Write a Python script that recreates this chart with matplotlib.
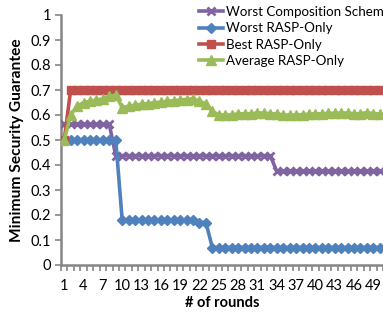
import matplotlib
matplotlib.use("Agg")
import matplotlib.pyplot as plt
from matplotlib.ticker import FixedLocator, NullFormatter

plt.rcParams['font.family'] = ['Lato', 'DejaVu Sans']

rounds = list(range(1, 51))
worst_comp = [0.5625] * 8 + [0.4375] * 25 + [0.375] * 17
worst_rasp = [0.5] * 9 + [0.18] * 12 + [0.17] * 2 + [0.07] * 27
best_rasp = [0.5] + [0.7] * 49
avg_rasp = [0.50, 0.60, 0.635, 0.65, 0.655, 0.66, 0.665, 0.675, 0.68, 0.63,
            0.635, 0.64, 0.643, 0.646, 0.649, 0.652, 0.655, 0.657, 0.66, 0.662,
            0.665, 0.655, 0.645, 0.615, 0.60, 0.60, 0.60, 0.605, 0.605, 0.605,
            0.608, 0.608, 0.605, 0.605, 0.60, 0.60, 0.60, 0.602, 0.603, 0.605,
            0.605, 0.607, 0.607, 0.608, 0.608, 0.605, 0.605, 0.61, 0.605, 0.605]
series_names = ["Worst Composition Scheme", "Worst RASP-Only", "Best RASP-Only", "Average RASP-Only"]
x_tick_labels = [str(r) for r in range(1, 51, 3)]
y_ticks = [i / 10 for i in range(0, 11)]

W, H = 383, 316
fig = plt.figure(figsize=(W / 100, H / 100), dpi=100)
ax = fig.add_axes([61 / W, 1 - 265 / H, 322 / W, 250 / H])

lw = 2.6
ax.plot(rounds, worst_comp, color="#8064A2", lw=lw, marker="x", ms=6, mew=2, label=series_names[0], zorder=3)
ax.plot(rounds, worst_rasp, color="#4F81BD", lw=lw, marker="D", ms=5.5, mec="#4F81BD", label=series_names[1], zorder=3)
ax.plot(rounds, best_rasp, color="#C0504D", lw=lw, marker="s", ms=6, mec="#C0504D", label=series_names[2], zorder=3)
ax.plot(rounds, avg_rasp, color="#9BBB59", lw=lw, marker="^", ms=7, mec="#9BBB59", label=series_names[3], zorder=4)

ax.set_xlim(0.5, 50.5)
ax.set_ylim(0, 1)
ax.set_yticks(y_ticks)
ax.set_yticklabels(["0"] + [f"{v:.1f}" for v in y_ticks[1:-1]] + ["1"])
ax.set_xticks(list(range(1, 51, 3)))
ax.set_xticklabels(x_tick_labels)
ax.xaxis.set_minor_locator(FixedLocator([i + 0.5 for i in range(0, 51)]))
ax.xaxis.set_minor_formatter(NullFormatter())
ax.tick_params(axis='x', which='major', length=0, pad=10, labelsize=10.5)
ax.tick_params(axis='x', which='minor', length=4, width=1.2, color="#868686", direction='out')
ax.tick_params(axis='y', which='major', length=4, width=1.2, color="#868686", labelsize=10.5, pad=3)

for s in ["top", "right"]:
    ax.spines[s].set_visible(False)
for s in ["left", "bottom"]:
    ax.spines[s].set_color("#868686")
    ax.spines[s].set_linewidth(1.8)

ax.set_ylabel("Minimum Security Guarantee", fontsize=11.2, fontweight="bold", labelpad=5)
ax.set_xlabel("# of rounds", fontsize=10.5, fontweight="bold", labelpad=2)

leg = fig.legend(loc="upper left", bbox_to_anchor=(199 / W, 1 - 6 / H), frameon=False,
                 fontsize=9.6, handlelength=1.8, handletextpad=0.2, labelspacing=0.32,
                 borderaxespad=0, borderpad=0)

fig.savefig("out.png", dpi=100)
